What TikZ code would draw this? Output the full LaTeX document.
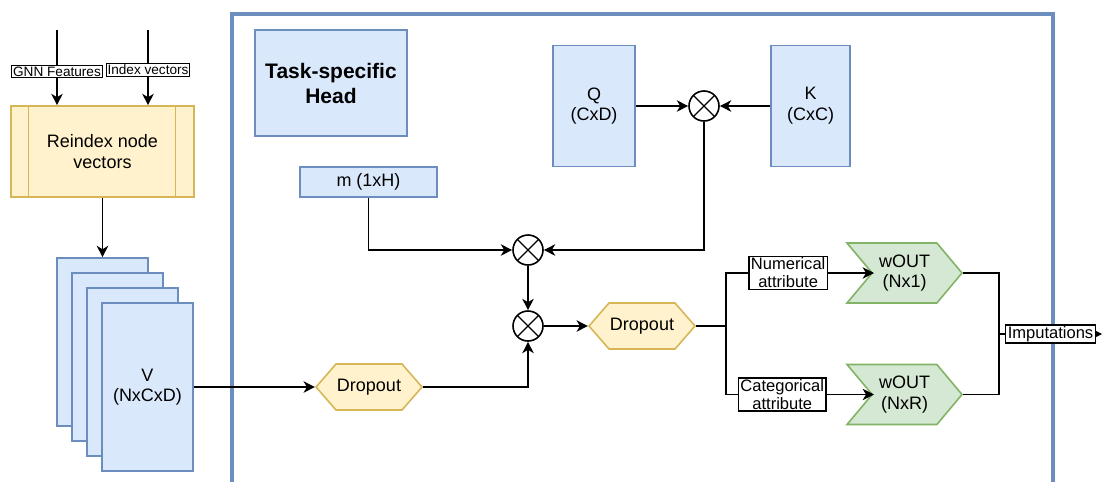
\documentclass[tikz,border=0pt]{standalone}
\usepackage{fontspec}
\setmainfont{Liberation Sans}
\usepackage{tikz}
\usetikzlibrary{arrows.meta,shapes.symbols,calc}

\definecolor{bluefill}{HTML}{DAE8FC}
\definecolor{blueline}{HTML}{6C8EBF}
\definecolor{yellowfill}{HTML}{FFF2CC}
\definecolor{yellowline}{HTML}{D6B656}
\definecolor{greenfill}{HTML}{D5E8D4}
\definecolor{greenline}{HTML}{82B366}

\begin{document}
\begin{tikzpicture}[x=0.75pt,y=-0.75pt,
nodes={align=center,inner sep=0pt},
line width=1.2pt,
>={Stealth[length=8.5pt,width=8.5pt,inset=2.5pt]},
txt/.style={font=\fontsize{13.5}{15.5}\selectfont},
bluebox/.style={txt,draw=blueline,fill=bluefill},
hexa/.style={txt,signal,signal to=east and west,signal pointer angle=98,
	draw=yellowline,fill=yellowfill,minimum width=79.5pt,minimum height=34.5pt},
wout/.style={txt,signal,signal from=west,signal to=east,signal pointer angle=100,
	draw=greenline,fill=greenfill,minimum width=86.25pt,minimum height=45pt},
mult/.style={circle,draw,fill=white,minimum size=22.5pt,
	path picture={\draw[line width=1pt]
		($(path picture bounding box.center)+(-15,-15)$) -- ($(path picture bounding box.center)+(15,15)$)
		($(path picture bounding box.center)+(-15,15)$) -- ($(path picture bounding box.center)+(15,-15)$);}},
lbl/.style={draw,fill=white,line width=1pt,inner xsep=1.5pt,inner ysep=1pt,font=\fontsize{12.4}{13.5}\selectfont},
lblsmall/.style={lbl,inner xsep=1pt,font=\fontsize{10.2}{11}\selectfont}]

\useasboundingbox (0,0) rectangle (1103,482);

% Frame of the head
\draw[blueline,line width=3pt] (232,482) -- (232,14) -- (1053,14) -- (1053,482);

% Input side
\node[txt,draw=yellowline,fill=yellowfill,minimum width=137.25pt,minimum height=68.25pt]
	(reindex) at (102.5,151.5) {Reindex node\\vectors};
\draw[yellowline,line width=1pt] ($(reindex.north west)+(18,0)$) -- ($(reindex.south west)+(18,0)$)
	($(reindex.north east)+(-19,0)$) -- ($(reindex.south east)+(-19,0)$);
\coordinate (gnnin) at (57,30);
\coordinate (idxin) at (148,30);
\draw[->] (gnnin) -- (gnnin |- reindex.north) node[lblsmall,pos=0.55] (gnnlbl) {GNN Features};
\draw[->] (idxin) -- (idxin |- reindex.north) node[lblsmall,pos=0.53] (idxlbl) {Index vectors};

% Stack of V
\foreach \i/\cx/\cy in {1/102.5/342,2/117.5/357,3/132.5/372,4/147.5/387}
	\node[bluebox,minimum width=68.25pt,minimum height=126pt] (v\i) at (\cx,\cy) {};
\node[txt] at (v4) {V\\(NxCxD)};
\draw[->] (reindex.south) -- (v1.north);

% Head
\node[bluebox,font=\fontsize{15.75}{18.75}\selectfont\bfseries,minimum width=114pt,minimum height=79.5pt]
	(task) at (331,83) {Task-specific\\Head};
\node[bluebox,minimum width=61.5pt,minimum height=90.75pt] (q) at (594,106) {Q\\(CxD)};
\node[bluebox,minimum width=59.25pt,minimum height=90.75pt] (k) at (810.5,106) {K\\(CxC)};
\node[bluebox,minimum width=102.75pt,minimum height=22.5pt] (m) at (368.5,182) {m (1xH)};
\node[mult] (qk) at (704,106) {};
\node[mult] (mqk) at (528,250) {};
\node[mult] (mv) at (528,326) {};
\node[hexa] (drop1) at (369,387) {Dropout};
\node[hexa] (drop2) at (642,326) {Dropout};
\node[wout] (wout1) at (904.5,273) {wOUT\\(Nx1)};
\node[wout] (wout2) at (904.5,394.5) {wOUT\\(NxR)};

% Connectors
\draw[->] (q.east) -- (qk.west);
\draw[->] (k.west) -- (qk.east);
\draw[->] (m.south) |- (mqk.west);
\draw[->] (qk.south) |- (mqk.east);
\draw[->] (mqk.south) -- (mv.north);
\draw[->] (v4.east) -- (drop1.west);
\draw[->] (drop1.east) -| (mv.south);
\draw[->] (mv.east) -- (drop2.west);

\coordinate (split) at (726,326);
\draw (drop2.east) -- (split);
\draw[->] (split) |- ($(wout1.center)+(-30.5,0)$) node[lbl,pos=0.71] (numlbl) {Numerical\\attribute};
\draw[->] (split) |- ($(wout2.center)+(-30.5,0)$) node[lbl,pos=0.69] (catlbl) {Categorical\\attribute};

\coordinate (merge) at (999,334);
\coordinate (out) at (1102,334);
\draw (wout1.east) -| (merge) |- (wout2.east);
\draw[->] (merge) -- (out) node[lbl,midway] (implbl) {Imputations};

\end{tikzpicture}
\end{document}
